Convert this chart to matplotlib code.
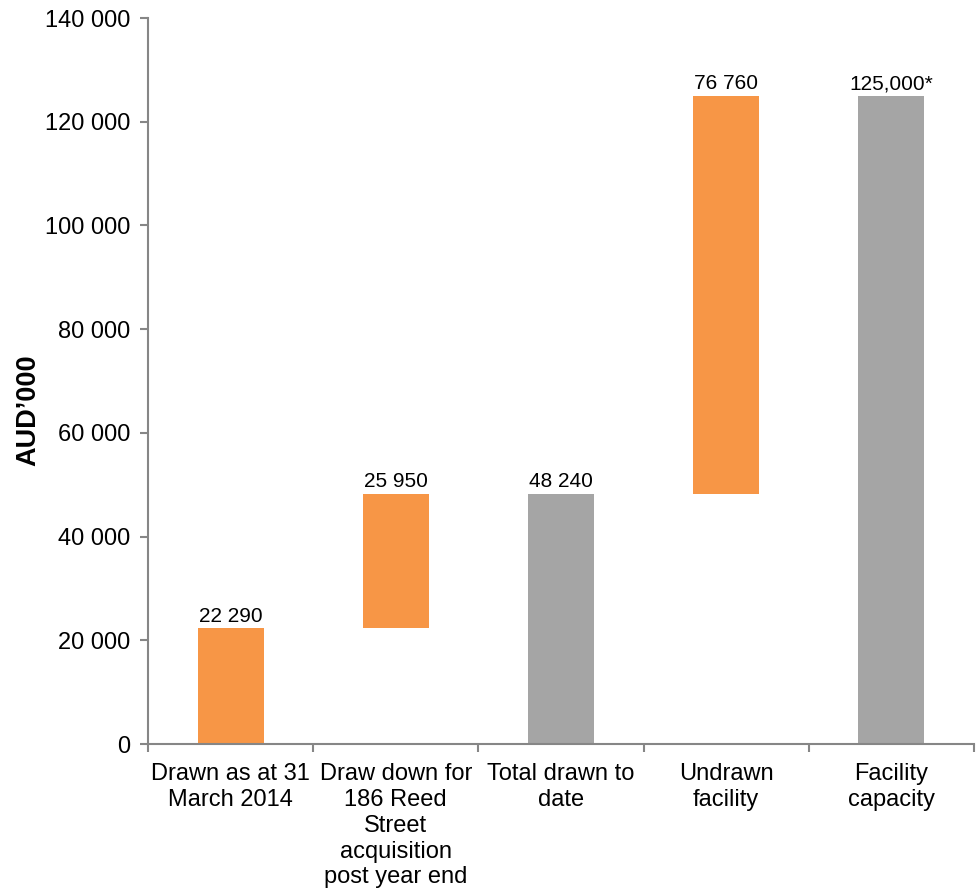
import matplotlib.pyplot as plt
import numpy as np

plt.rcParams['font.family'] = ['Liberation Sans', 'DejaVu Sans']

categories = ['Drawn as at 31\nMarch 2014', 'Draw down for\n186 Reed\nStreet\nacquisition\npost year end',
              'Total drawn to\ndate', 'Undrawn\nfacility', 'Facility\ncapacity']
bottoms = [0, 22290, 0, 48240, 0]
heights = [22290, 25950, 48240, 76760, 125000]
value_labels = ['22 290', '25 950', '48 240', '76 760', '125,000*']
colors = ['#F79646', '#F79646', '#A5A5A5', '#F79646', '#A5A5A5']

axis_col = '#868686'

fig = plt.figure(figsize=(9.78, 8.96), dpi=100)
ax = fig.add_axes([0.1513, 0.1696, 0.8446, 0.8103])

x = np.arange(len(categories))
ax.bar(x, heights, bottom=bottoms, width=0.4, color=colors)

for xi, b, h, lab in zip(x, bottoms, heights, value_labels):
    ax.annotate(lab, (xi, b + h), xytext=(0, 2), textcoords='offset points',
                ha='center', va='bottom', fontsize=15)

ax.set_xlim(-0.5, 4.5)
ax.set_ylim(0, 140000)
ax.set_yticks(range(0, 140001, 20000))
ax.set_yticklabels([f'{v:,}'.replace(',', ' ') for v in range(0, 140001, 20000)], fontsize=17)

# category boundaries as major ticks, names on minor ticks
ax.set_xticks(np.arange(-0.5, 5, 1))
ax.set_xticklabels([])
ax.set_xticks(x, minor=True)
ax.set_xticklabels(categories, minor=True, fontsize=17, linespacing=1.22)
ax.tick_params(axis='x', which='minor', length=0, pad=14)
ax.tick_params(axis='x', which='major', length=6, width=1.5, color=axis_col)
ax.tick_params(axis='y', length=6, width=1.5, color=axis_col, pad=6.5)

ax.set_ylabel('AUD\u2019000', fontsize=19.5, fontweight='bold')
ax.yaxis.set_label_coords(-0.129, 0.46)

for side in ['top', 'right']:
    ax.spines[side].set_visible(False)
for side in ['left', 'bottom']:
    ax.spines[side].set_color(axis_col)
    ax.spines[side].set_linewidth(1.5)

fig.savefig('out.png', dpi=100)
